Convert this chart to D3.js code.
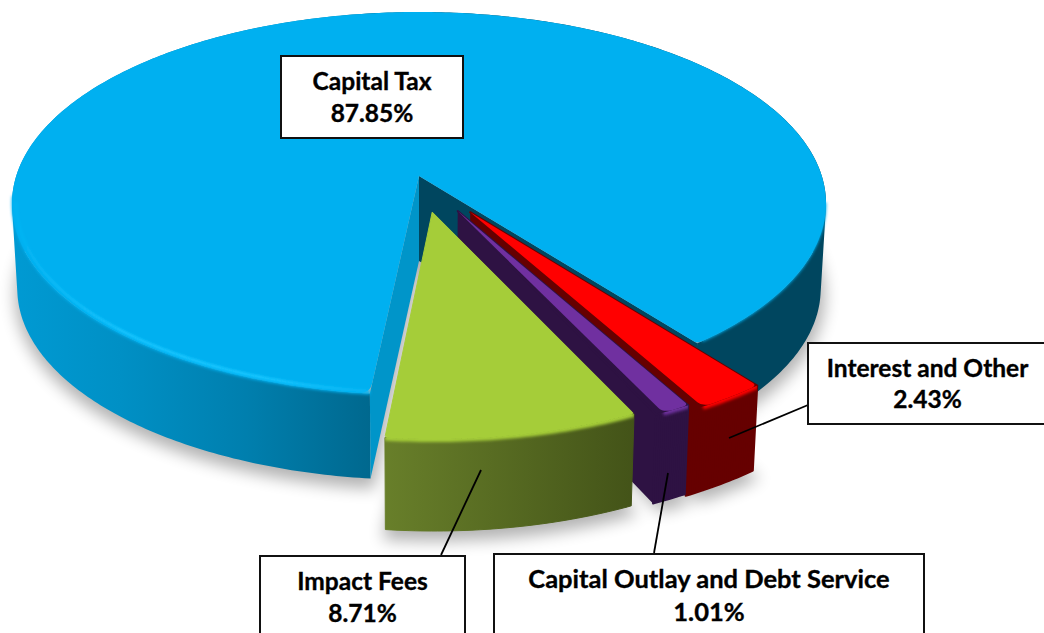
<!DOCTYPE html>
<html><head><meta charset="utf-8">
<script src="https://cdn.jsdelivr.net/npm/d3@7/dist/d3.min.js"></script>
<style>html,body{margin:0;padding:0;background:#fff;overflow:hidden}svg{display:block}</style>
</head><body><svg id="c" width="1044" height="633"></svg>
<script>
// ---- data ----
const categories = ["Capital Tax", "Interest and Other", "Capital Outlay and Debt Service", "Impact Fees"];
const shares = [87.85, 2.43, 1.01, 8.71];
const shareLabels = ["87.85%", "2.43%", "1.01%", "8.71%"];

// ---- styling and layout ----
const topColors  = ["#00b0f0", "#ff0000", "#7030a0", "#a5cd39"];
const wallColors = ["#00465f", "#660000", "#2e1243", "#4f611f"];
const explode = [0, .225, .205, .19];
const radius  = [1, .98, .98, .98];
const depth   = [85, 85, 89, 92];
const wallFlare = [0, 2, 1, 0];
const cornerSize = [[10, 3], [5, 7], [4, 7], [2, 2]]; // [start corner, end corner]
const boxes = [
  {x:281, y:56,  w:182, h:82,  t1:34, t2:66, fs:24.5},
  {x:808, y:343, w:260, h:81,  t1:34, t2:65, cx:927.5, fs:24.5},
  {x:494, y:554, w:430, h:100, t1:34, t2:67, fs:25.5},
  {x:260, y:556, w:205, h:100, t1:34, t2:66, fs:24.5}
];
const leaders = [null, [[808,405],[729,438]], [[654,553],[668,473]], [[441,555],[481,470]]];

const PCX = 419, PCY = 176, A = 402.8, B = 187.55, K = .1436;
const rad = d => d * Math.PI / 180;
const svg = d3.select("#c");
const defs = svg.append("defs");
const blur = (id, s) => defs.append("filter").attr("id", id)
  .attr("filterUnits", "userSpaceOnUse").attr("x", -50).attr("y", -50).attr("width", 1150).attr("height", 740)
  .append("feGaussianBlur").attr("stdDeviation", s);
blur("b1", 1.8); blur("b2", .9); blur("sh", 8);
const grad = (id, x1, x2, stops) => {
  const g = defs.append("linearGradient").attr("id", id).attr("gradientUnits", "userSpaceOnUse")
    .attr("x1", x1).attr("x2", x2).attr("y1", 0).attr("y2", 0);
  stops.forEach(s => g.append("stop").attr("offset", s[0]).attr("stop-color", s[1]).attr("stop-opacity", s[2] === undefined ? 1 : s[2]));
};
grad("gBlue", 12, 372, [[0, "#009ad3"], [.3, "#0090c5"], [.65, "#007fae"], [1, "#00688e"]]);
grad("gGreen", 385, 635, [[0, "#687f2a"], [1, "#435318"]]);
grad("gHi", 15, 372, [[0, "#19c6ff", .15], [.3, "#19c6ff", .9], [.7, "#19c6ff", 1], [1, "#19c6ff", .25]]);

const project = (u, v) => { const w = 1 - K * v; return [PCX + A * u / w, PCY + B * v / w]; };
const drop = (p, d) => [PCX + (p[0] - PCX) * .987, p[1] + d];
const line = d3.line();

const arcs = d3.pie().sort(null).startAngle(rad(186)).endAngle(rad(186 + 360))(shares);

const slices = arcs.map((a, i) => {
  const mid = (a.startAngle + a.endAngle) / 2;
  const ou = explode[i] * Math.sin(mid), ov = -explode[i] * Math.cos(mid);
  const at = (t, r) => project(ou + r * Math.sin(t), ov - r * Math.cos(t));
  const sample = (t0, t1, r) => d3.range(0, 1.0001, 1 / Math.max(8, Math.ceil(Math.abs(t1 - t0) * 80)))
    .map(f => at(t0 + (t1 - t0) * f, r));
  return {i, a, apex: project(ou, ov), at, sample,
    outer: sample(a.startAngle, a.endAngle, radius[i]),
    flared: sample(a.startAngle, a.endAngle + rad(wallFlare[i]), radius[i]), d: depth[i]};
});
// extruded ribbon: one consistently wound quad per segment so no region cancels out
const band = (pts, d) => d3.pairs(pts).map(([p, q]) => {
  const quad = [p, q, drop(q, d), drop(p, d)];
  if (d3.polygonArea(quad) < 0) quad.reverse();
  return line(quad) + "Z";
}).join("");
const dist = (a, b) => Math.hypot(a[0] - b[0], a[1] - b[1]);
const toward = (a, b, l) => { const t = l / dist(a, b); return [a[0] + (b[0] - a[0]) * t, a[1] + (b[1] - a[1]) * t]; };
// top face with softened corners where the arc meets the two straight edges
const topPath = s => {
  const pts = s.outer, [r0, r1] = cornerSize[s.i], first = pts[0], last = pts[pts.length - 1];
  const inner = pts.filter(p => dist(p, first) > r0 && dist(p, last) > r1);
  const p = d3.path(), s0p = toward(first, s.apex, r0), s1p = toward(last, s.apex, r1);
  p.moveTo(s.apex[0], s.apex[1]);
  p.lineTo(s0p[0], s0p[1]);
  p.quadraticCurveTo(first[0], first[1], inner[0][0], inner[0][1]);
  inner.forEach(q => p.lineTo(q[0], q[1]));
  p.quadraticCurveTo(last[0], last[1], s1p[0], s1p[1]);
  p.closePath();
  return p.toString();
};

// soft shadow under every slice
const shadow = svg.append("g").attr("filter", "url(#sh)").attr("opacity", .3);
slices.forEach(s => shadow.append("path")
  .attr("d", line([s.apex].concat(s.outer).map(p => { const q = drop(p, s.d); return [q[0] + 1, q[1] + 7]; })) + "Z")
  .attr("fill", "#000").attr("stroke", "#000").attr("stroke-width", 6));

// big slice
const big = slices[0];
const s0 = big.a.startAngle, s1 = big.a.endAngle, back = rad(360);
const gBig = svg.append("g");
gBig.append("path").attr("d", band([big.apex, big.outer[big.outer.length - 1]], big.d)).attr("fill", wallColors[0]);
gBig.append("path").attr("d", band(big.sample(back, s1, 1), big.d)).attr("fill", wallColors[0]);
gBig.append("path").attr("d", band(big.sample(s0, back, 1), big.d)).attr("fill", "url(#gBlue)");
gBig.append("path").attr("d", band([big.apex, big.outer[0]], big.d)).attr("fill", "#0095c9");
gBig.append("path").attr("d", line(big.sample(s0, rad(264), .996))).attr("fill", "none")
  .attr("stroke", topColors[0]).attr("stroke-width", 4).attr("filter", "url(#b1)");
gBig.append("path").attr("d", line(big.sample(rad(98 + 360), s1 - rad(1), .996))).attr("fill", "none")
  .attr("stroke", topColors[0]).attr("stroke-width", 4).attr("filter", "url(#b1)");
gBig.append("path").attr("d", topPath(big)).attr("fill", topColors[0]);
gBig.append("path").attr("d", line(big.sample(s0, rad(262), .99))).attr("fill", "none")
  .attr("stroke", "url(#gHi)").attr("stroke-width", 3).attr("filter", "url(#b2)");

// exploded slices, far ones first so nearer ones overlap them
[1, 2, 3].forEach(i => {
  const s = slices[i], g = svg.append("g");
  const wallFill = i === 3 ? "url(#gGreen)" : wallColors[i];
  const wedge = i === 3 ? "" : line([s.apex].concat(s.flared)) + "Z";
  const wall = band(s.flared, s.d);
  if (i !== 3) {
    const cornerWall = band([s.apex, s.flared[s.flared.length - 1]], s.d);
    g.append("path").attr("d", cornerWall + wedge).attr("fill", wallColors[i]);
  }
  g.append("path").attr("d", wall + wedge).attr("fill", wallFill)
    .attr("stroke", wallFill).attr("stroke-width", i === 3 ? 1 : 2).attr("stroke-linejoin", "round");
  defs.append("clipPath").attr("id", "clip" + i).append("path").attr("d", wall);
  g.append("g").attr("clip-path", "url(#clip" + i + ")").append("path").attr("d", line(s.outer)).attr("fill", "none")
    .attr("stroke", topColors[i]).attr("stroke-width", 6).attr("filter", "url(#b1)");
  g.append("path").attr("d", topPath(s)).attr("fill", topColors[i])
    .attr("stroke", i === 3 ? topColors[i] : "none").attr("stroke-width", 1);
});

// leaders and label boxes
leaders.forEach(l => { if (l) svg.append("path").attr("d", line(l)).attr("fill", "none").attr("stroke", "#000").attr("stroke-width", 1.8); });
categories.forEach((c, i) => {
  const b = boxes[i], cx = b.cx !== undefined ? b.cx : b.x + b.w / 2;
  svg.append("rect").attr("x", b.x).attr("y", b.y).attr("width", b.w).attr("height", b.h)
    .attr("fill", "#fff").attr("stroke", "#111").attr("stroke-width", 2);
  [[c, b.t1], [shareLabels[i], b.t2]].forEach(([t, dy]) => {
    svg.append("text").attr("x", cx).attr("y", b.y + dy).attr("text-anchor", "middle")
      .attr("font-family", "Lato, sans-serif").attr("font-weight", 700)
      .attr("font-size", b.fs).attr("stroke", "#000").attr("stroke-width", .35).attr("fill", "#000").text(t);
  });
});
</script></body></html>
